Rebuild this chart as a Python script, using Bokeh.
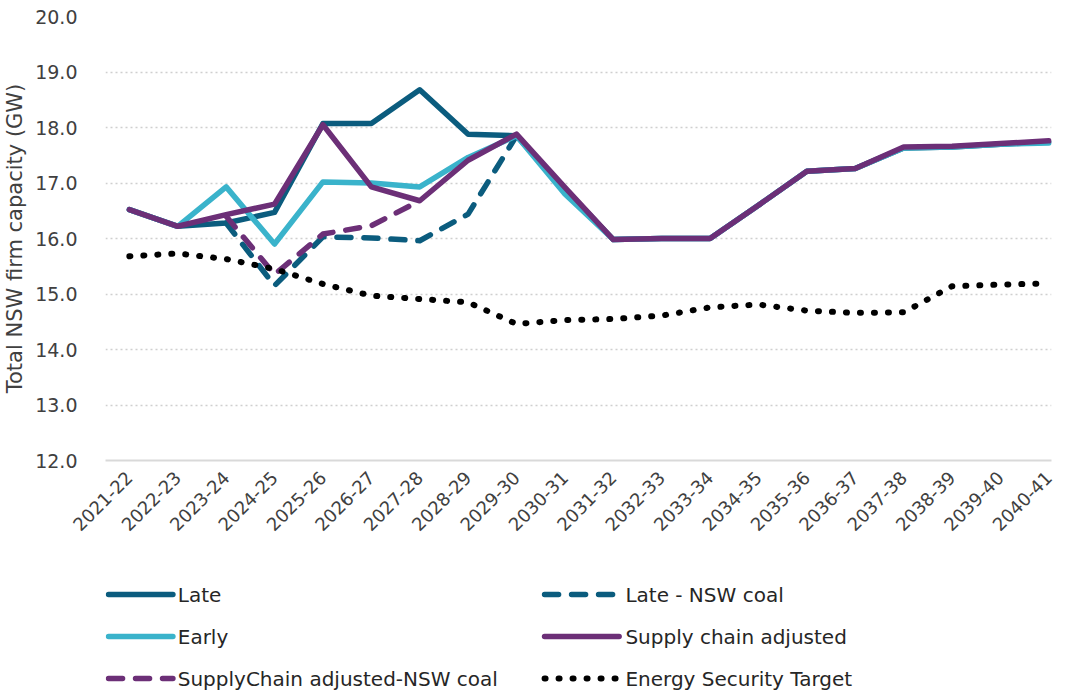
import math
from bokeh.plotting import figure
from bokeh.layouts import column
from bokeh.models import ColumnDataSource, Range1d, FixedTicker, PrintfTickFormatter
from bokeh.core.properties import value
from bokeh.embed import file_html
from bokeh.resources import INLINE

categories = ["2021-22", "2022-23", "2023-24", "2024-25", "2025-26", "2026-27", "2027-28",
              "2028-29", "2029-30", "2030-31", "2031-32", "2032-33", "2033-34", "2034-35",
              "2035-36", "2036-37", "2037-38", "2038-39", "2039-40", "2040-41"]
nan = float("nan")
late = [16.52, 16.22, 16.28, 16.47, 18.07, 18.07, 18.68, 17.88, 17.85, 16.90, 15.98, 16.00,
        16.00, 16.60, 17.21, 17.26, 17.63, 17.65, 17.70, 17.74]
late_nsw_coal = [nan, nan, 16.28, 15.15, 16.03, 16.01, 15.96, 16.44, 17.85, nan, nan, nan,
                 nan, nan, nan, nan, nan, nan, nan, nan]
early = [16.52, 16.22, 16.93, 15.90, 17.02, 17.00, 16.93, 17.46, 17.85, 16.80, 15.98, 16.00,
         16.00, 16.60, 17.21, 17.26, 17.63, 17.65, 17.70, 17.72]
supply_chain = [16.52, 16.22, 16.43, 16.62, 18.05, 16.93, 16.68, 17.41, 17.88, 16.92, 15.98,
                16.00, 16.00, 16.60, 17.21, 17.26, 17.65, 17.66, 17.71, 17.76]
supply_chain_nsw_coal = [nan, nan, 16.40, 15.35, 16.08, 16.23, 16.68, nan, nan, nan, nan, nan,
                         nan, nan, nan, nan, nan, nan, nan, nan]
energy_security = [15.68, 15.73, 15.63, 15.45, 15.18, 14.97, 14.91, 14.85, 14.46, 14.53, 14.55,
                   14.61, 14.76, 14.81, 14.70, 14.66, 14.67, 15.14, 15.17, 15.19]
y_ticks = [12, 13, 14, 15, 16, 17, 18, 19, 20]
legend_labels = ["Late", "Late - NSW coal", "Early", "Supply chain adjusted",
                 "SupplyChain adjusted-NSW coal", "Energy Security Target"]
series_columns = ["late", "late_nsw", "early", "sc", "sc_nsw", "est"]

C_LATE = "#0b5c7e"
C_EARLY = "#3ab3cb"
C_SC = "#6c2f77"
styles = [
    dict(line_color=C_LATE, line_width=5.5, line_dash="solid"),
    dict(line_color=C_LATE, line_width=5.5, line_dash="14 13"),
    dict(line_color=C_EARLY, line_width=5.5, line_dash="solid"),
    dict(line_color=C_SC, line_width=5.5, line_dash="solid"),
    dict(line_color=C_SC, line_width=5.5, line_dash="14 13"),
    dict(line_color="black", line_width=6, line_dash="1 13"),
]

idx = list(range(len(categories)))
src = ColumnDataSource(dict(x=idx, late=late, late_nsw=late_nsw_coal, early=early,
                            sc=supply_chain, sc_nsw=supply_chain_nsw_coal,
                            est=energy_security))

FONT = "DejaVu Sans"
TXT = "#404040"

xr = Range1d(-0.493, 19.055)
p = figure(frame_width=946, frame_height=444, output_backend="svg", toolbar_location=None,
           x_range=xr, y_range=Range1d(12, 20),
           min_border_left=99, min_border_right=6, min_border_top=16, min_border_bottom=108)
p.outline_line_color = None
p.background_fill_color = "white"

for col, st in zip(series_columns, styles):
    p.line("x", col, source=src, line_join="round", line_cap="round", **st)

# axes
p.xaxis.ticker = FixedTicker(ticks=idx)
p.xaxis.major_label_overrides = {i: c for i, c in zip(idx, categories)}
p.xaxis.major_label_orientation = math.pi / 4
p.xaxis.major_label_text_font = FONT
p.xaxis.major_label_text_font_size = "18px"
p.xaxis.major_label_text_color = TXT
p.xaxis.major_label_standoff = 8
p.xaxis.major_tick_line_color = None
p.xaxis.minor_tick_line_color = None
p.xaxis.axis_line_color = "#d9d9d9"
p.xaxis.axis_line_width = 2

p.yaxis.ticker = FixedTicker(ticks=y_ticks)
p.yaxis.formatter = PrintfTickFormatter(format="%.1f")
p.yaxis.major_label_text_font = FONT
p.yaxis.major_label_text_font_size = "19px"
p.yaxis.major_label_text_color = TXT
p.yaxis.major_label_standoff = 22
p.yaxis.major_tick_line_color = None
p.yaxis.minor_tick_line_color = None
p.yaxis.axis_line_color = None
p.yaxis.axis_label = "Total NSW firm capacity (GW)"
p.yaxis.axis_label_text_font = FONT
p.yaxis.axis_label_text_font_size = "21px"
p.yaxis.axis_label_text_font_style = "normal"
p.yaxis.axis_label_text_color = TXT
p.yaxis.axis_label_standoff = 5

p.xgrid.grid_line_color = None
p.ygrid.grid_line_color = "#cfcfcf"
p.ygrid.grid_line_width = 1.5
p.ygrid.grid_line_dash = "2 3"

# legend panel (2 columns x 3 rows); x shares the chart's x scale, y in pixels from top
LEG_H = 122
leg = figure(frame_width=946, frame_height=LEG_H, output_backend="svg", toolbar_location=None,
             x_range=xr, y_range=Range1d(LEG_H, 0),
             min_border_left=99, min_border_right=6, min_border_top=0, min_border_bottom=0,
             x_axis_location=None, y_axis_location=None)
leg.outline_line_color = None
leg.grid.visible = False
swatch_start = [-0.43, 8.58]
swatch_end = [0.90, 10.12]
text_start = [1.0, 10.25]
row_y = [26, 68, 110]
for i, (lab, st) in enumerate(zip(legend_labels, styles)):
    r, c = divmod(i, 2)
    y = row_y[r]
    leg.line([swatch_start[c], swatch_end[c]], [y, y], line_cap="round", **st)
    leg.text([text_start[c]], [y], text=[lab], text_font=value(FONT),
             text_font_size="20px", text_color="#262626",
             text_baseline="middle", text_align="left")

open("out.html", "w").write(file_html(column(p, leg, spacing=0), INLINE))
